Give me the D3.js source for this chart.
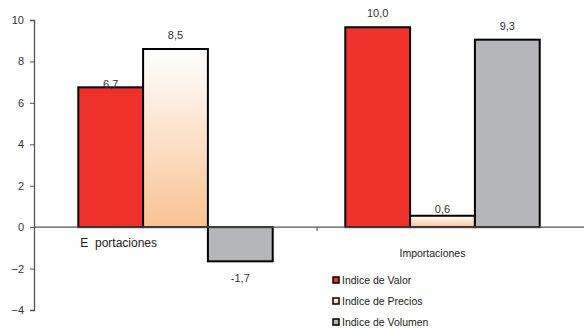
<!DOCTYPE html>
<html><head><meta charset="utf-8">
<script src="https://cdn.jsdelivr.net/npm/d3@7"></script>
<style>body{margin:0;background:#fff}svg{display:block;font-family:"Liberation Sans",Arial,sans-serif}</style>
</head><body><svg id="c" width="584" height="328"></svg>
<script>
const categories = ["Exportaciones", "Importaciones"];
const categoryLabels = ["E  portaciones", "Importaciones"];
const seriesNames = ["Indice de Valor", "Indice de Precios", "Indice de Volumen"];
const valorValues = [6.75, 9.65];
const preciosValues = [8.6, 0.55];
const volumenValues = [-1.65, 9.05];
const valorLabels = ["6,7", "10,0"];
const preciosLabels = ["8,5", "0,6"];
const volumenLabels = ["-1,7", "9,3"];
const yTicks = [-4, -2, 0, 2, 4, 6, 8, 10];

const svg = d3.select("#c");
const y = d3.scaleLinear().domain([-4, 10]).range([310, 20]);
const x0 = d3.scaleBand().domain(categories).range([42, 576]).paddingInner(0).paddingOuter(0);
const x1 = d3.scaleBand().domain(seriesNames).range([0, x0.bandwidth()]).paddingInner(0).paddingOuter(0.56);

const defs = svg.append("defs");
const g = defs.append("linearGradient").attr("id","pg").attr("x1",0).attr("y1",0).attr("x2",0).attr("y2",1);
g.append("stop").attr("offset","0%").attr("stop-color","#ffffff");
g.append("stop").attr("offset","100%").attr("stop-color","#f9c293");
const fills = {"Indice de Valor":"#ee322b","Indice de Precios":"url(#pg)","Indice de Volumen":"#b5b6b9"};

const rows = [];
categories.forEach((c,i)=>{
  rows.push({c, s:seriesNames[0], v:valorValues[i], l:valorLabels[i]});
  rows.push({c, s:seriesNames[1], v:preciosValues[i], l:preciosLabels[i]});
  rows.push({c, s:seriesNames[2], v:volumenValues[i], l:volumenLabels[i]});
});

// y axis
const ya = svg.append("g").attr("transform","translate(34,0)")
  .call(d3.axisLeft(y).tickValues(yTicks).tickSize(4).tickPadding(6).tickFormat(d3.format("d")));
ya.select(".domain").attr("stroke","#555").attr("stroke-width",1.3);
ya.selectAll(".tick line").attr("stroke","#555");
ya.selectAll("text").attr("font-size",11).attr("fill","#333").attr("font-family","Liberation Sans, Arial, sans-serif");

// bars
svg.append("g").selectAll("rect").data(rows).join("rect")
  .attr("x", d=>x0(d.c)+x1(d.s))
  .attr("width", x1.bandwidth())
  .attr("y", d=>y(Math.max(0,d.v)))
  .attr("height", d=>Math.abs(y(d.v)-y(0)))
  .attr("fill", d=>fills[d.s])
  .attr("stroke","#000").attr("stroke-width",2);

// zero axis line
svg.append("line").attr("x1",34).attr("x2",584).attr("y1",y(0)).attr("y2",y(0)).attr("stroke","#555").attr("stroke-width",1.3);
svg.append("line").attr("x1",x0(categories[1])+8).attr("x2",x0(categories[1])+8).attr("y1",y(0)).attr("y2",y(0)+4).attr("stroke","#555");

// value labels
svg.append("g").selectAll("text").data(rows).join("text")
  .attr("x", d=>x0(d.c)+x1(d.s)+x1.bandwidth()/2)
  .attr("y", d=>{
    if (d.v < 0) return y(d.v)+21;
    if (d.s==="Indice de Precios" && d.c==="Importaciones") return y(d.v)-3;
    if (d.s==="Indice de Valor" && d.c==="Exportaciones") return y(d.v)+1;
    return y(d.v)-10;
  })
  .attr("text-anchor","middle").attr("font-size",11).attr("fill","#333").text(d=>d.l);

// category labels
svg.append("text").attr("x", x0(categories[0])+x1(seriesNames[0])+2).attr("y", 247)
  .attr("font-size",12).attr("fill","#222").style("white-space","pre").text(categoryLabels[0]);
svg.append("text").attr("x", x0(categories[1])+x0.bandwidth()/2-10).attr("y", 257)
  .attr("text-anchor","middle").attr("font-size",10.5).attr("fill","#222").text(categoryLabels[1]);

// legend
const lg = svg.append("g").attr("transform","translate(333,277)");
const item = lg.selectAll("g").data(seriesNames).join("g").attr("transform",(d,i)=>`translate(0,${i*21})`);
item.append("rect").attr("width",6).attr("height",6).attr("fill",d=>fills[d]).attr("stroke","#000").attr("stroke-width",1.5);
item.append("text").attr("x",9).attr("y",7).attr("font-size",10.5).attr("fill","#222").text(d=>d);
</script></body></html>
